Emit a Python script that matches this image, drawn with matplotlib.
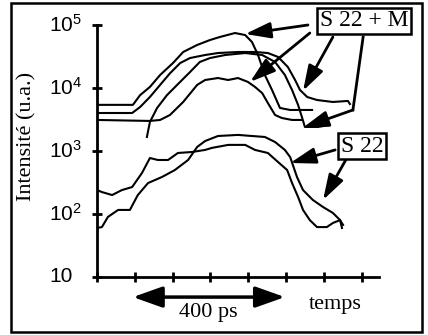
import matplotlib
matplotlib.use("Agg")
import matplotlib.pyplot as plt
from matplotlib.patches import Rectangle
from matplotlib.ticker import NullLocator


# -------------------------
# Data (time in ps, intensity in a.u.)
# -------------------------
sm_a_t = [0, 95, 114, 140, 167, 201, 228, 265, 299, 325, 365, 392, 410, 426, 444, 463, 484, 511, 569]
sm_a_i = [5400, 5400, 7700, 10400, 16100, 24900, 37300, 48200, 57800, 64500, 74600, 69300, 53700, 33400,
          16100, 9300, 4820, 4480, 4480]

sm_b_t = [0, 93, 114, 140, 167, 193, 220, 246, 286, 320, 373, 418, 452, 479, 505, 524, 537, 556, 582, 624, 664, 669]
sm_b_i = [4010, 4010, 4990, 7200, 11200, 17100, 24900, 29900, 33400, 35900, 37300, 37300, 35900, 31100,
          21500, 13400, 9300, 7200, 6450, 6000, 6230, 5570]

sm_c_t = [132, 140, 159, 185, 212, 246, 272, 299, 339, 392, 437, 471, 497, 516, 532, 542, 550, 585, 616]
sm_c_i = [1670, 2890, 4820, 7700, 11200, 17900, 25900, 29900, 33400, 35900, 33400, 25900, 16100, 9300,
          5370, 3470, 2410, 2410, 2590]

sm_d_t = [0, 140, 167, 193, 228, 265, 286, 320, 347, 373, 399, 418, 437, 452, 471, 489, 516, 542]
sm_d_i = [3110, 3000, 3110, 3730, 6000, 11200, 13400, 14400, 13400, 14400, 12500, 10400, 8300, 5780,
          3730, 3340, 3110, 3110]

s22_a_t = [0, 13, 40, 66, 93, 119, 140, 161, 188, 214, 251, 286, 304, 347, 392, 418, 452, 479, 503, 516,
           532, 545, 563, 582, 608, 624, 643, 648]
s22_a_i = [240, 223, 200, 240, 268, 448, 774, 720, 720, 930, 964, 1040, 1120, 1250, 1250, 1040, 930, 668,
           499, 310, 186, 116, 80, 62, 62, 72, 80, 60]

s22_b_t = [0, 13, 29, 56, 87, 108, 135, 172, 206, 241, 265, 286, 320, 373, 410, 444, 471, 497, 511, 529,
           545, 571, 598, 624, 643, 651]
s22_b_i = [60, 62, 90, 116, 116, 200, 310, 387, 499, 720, 1160, 1440, 1730, 1800, 1730, 1670, 1390, 1040,
           800, 387, 240, 167, 129, 104, 80, 67]

ytick_values = [10, 100, 1e3, 1e4, 1e5]
ytick_labels = ["10", r"$\mathregular{10^{2}}$", r"$\mathregular{10^{3}}$",
                r"$\mathregular{10^{4}}$", r"$\mathregular{10^{5}}$"]
xtick_values = [0, 100, 200, 300, 400, 500, 600, 700]

label_sm = "S 22 + M"
label_s22 = "S 22"
label_y = "Intensité (u.a.)"
label_span = "400 ps"
label_time = "temps"


# -------------------------
# Helpers
# -------------------------
def arrow(ax, start, tip, scale=22):
    ax.annotate("", xy=tip, xytext=start, xycoords="data", textcoords="data",
                annotation_clip=False,
                arrowprops=dict(arrowstyle="-|>,head_length=0.7,head_width=0.22",
                                mutation_scale=scale, lw=2, color="k",
                                shrinkA=0, shrinkB=0))


def main() -> None:
    serif = "Liberation Serif"
    sans = "Liberation Sans"

    fig = plt.figure(figsize=(4.28, 3.35), dpi=100)
    ax = fig.add_axes([97 / 428, 1 - 277 / 335, 282 / 428, 252 / 335])

    for t, i in [(sm_a_t, sm_a_i), (sm_b_t, sm_b_i), (sm_c_t, sm_c_i), (sm_d_t, sm_d_i),
                 (s22_a_t, s22_a_i), (s22_b_t, s22_b_i)]:
        ax.plot(t, i, color="k", lw=1.5, solid_joinstyle="round")

    ax.set_yscale("log")
    ax.set_ylim(10, 1e5)
    ax.set_xlim(0, 746)
    ax.yaxis.set_minor_locator(NullLocator())
    ax.set_yticks(ytick_values)
    ax.set_yticklabels([])
    ax.set_xticks(xtick_values)
    ax.set_xticklabels([])
    ax.tick_params(direction="inout", length=7, width=2)
    for side in ("top", "right"):
        ax.spines[side].set_visible(False)
    for side in ("left", "bottom"):
        ax.spines[side].set_linewidth(2)

    ytr = ax.get_yaxis_transform()
    for v, lab in zip(ytick_values, ytick_labels):
        ax.text(-0.17, v, lab, transform=ytr, ha="left", va="center",
                fontsize=15, family=sans)

    fig.text(27 / 428, 1 - 136 / 335, label_y, rotation=90, ha="center", va="center",
             fontsize=16, family=serif)

    # annotation boxes
    box = dict(boxstyle="square,pad=0.12", fc="white", ec="k", lw=1.8)
    ax.text(706, 1.16e5, label_sm, ha="center", va="center", fontsize=17, family=serif,
            bbox=box, zorder=5, clip_on=False)
    ax.text(701, 1200, label_s22, ha="center", va="center", fontsize=17, family=serif,
            bbox=box, zorder=5, clip_on=False)

    arrow(ax, (558, 1.0e5), (392, 72000))
    arrow(ax, (563, 74600), (405, 12500))
    arrow(ax, (624, 64500), (545, 9000))
    ax.plot([704, 677], [64500, 4480], color="k", lw=2, clip_on=False)
    arrow(ax, (677, 4480), (545, 2350))
    arrow(ax, (630, 1040), (511, 645))
    arrow(ax, (661, 774), (598, 167))

    # time span arrow
    ax.annotate("", xy=(497, 4.8), xytext=(95, 4.8), annotation_clip=False,
                arrowprops=dict(arrowstyle="<|-|>,head_length=0.45,head_width=0.16",
                                mutation_scale=40, lw=2.5, color="k",
                                shrinkA=0, shrinkB=0))
    ax.text(294, 2.78, label_span, ha="center", va="center", fontsize=16, family=serif, clip_on=False)
    ax.text(630, 3.6, label_time, ha="center", va="center", fontsize=16, family=serif, clip_on=False)

    fig.add_artist(Rectangle((11 / 428, 1 - 332 / 335), 411 / 428, 329 / 335,
                             transform=fig.transFigure, fill=False, ec="k", lw=1.8))

    fig.savefig("out.png", dpi=100)
    plt.close(fig)


if __name__ == "__main__":
    main()
